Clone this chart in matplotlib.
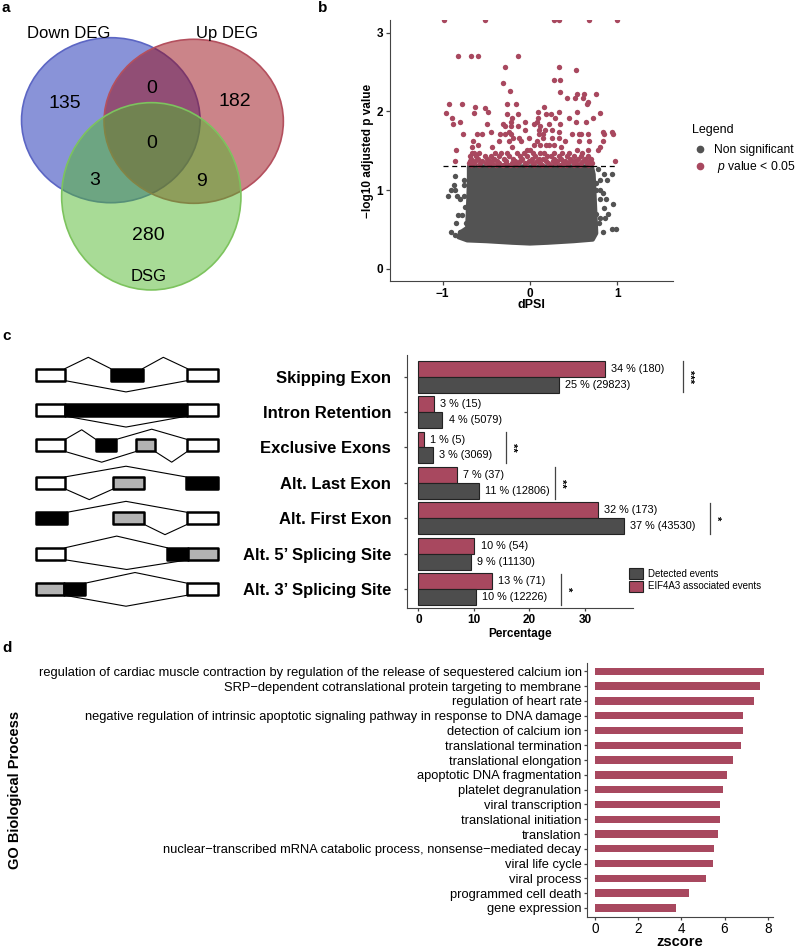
import numpy as np
import matplotlib
matplotlib.use('Agg')
import matplotlib.pyplot as plt
from matplotlib.patches import Ellipse, Rectangle, Patch
from matplotlib.lines import Line2D

plt.rcParams['font.family'] = ['Liberation Sans', 'DejaVu Sans']
plt.rcParams['mathtext.fontset'] = 'custom'
plt.rcParams['mathtext.rm'] = 'Liberation Sans'
plt.rcParams['mathtext.it'] = 'Liberation Sans:italic'

# ---------------- data ----------------
# panel a: Venn
venn_sets = ['Down DEG', 'Up DEG', 'DSG']
venn_regions = ['Down only', 'Down&Up', 'Up only', 'All', 'Down&DSG', 'Up&DSG', 'DSG only']
venn_counts = [135, 0, 182, 0, 3, 9, 280]

# panel b: volcano
sig_logp = [3.16, 2.70, 2.56, 2.52, 2.40, 2.36, 2.26, 2.24, 2.22, 2.17, 2.12,
            2.09, 2.06, 2.04, 1.99, 1.98, 1.96, 1.92, 1.87, 1.84, 1.81, 1.76,
            1.74, 1.71, 1.66, 1.62, 1.57, 1.55, 1.51, 1.47, 1.43, 1.40, 1.37,
            1.34, 1.32]
sig_dpsi = [
    [-0.99, -0.51, 0.275, 0.336, 0.673, 1.0],
    [-0.83, -0.68, -0.60, -0.14],
    [-0.287, 0.336],
    [0.524],
    [0.275, 0.348],
    [-0.306],
    [-0.226],
    [0.348],
    [0.535, 0.623, 0.753],
    [0.424, 0.52, 0.608],
    [0.669],
    [-0.93, -0.776, -0.267, -0.157, 0.65],
    [-0.634, 0.161],
    [-0.516],
    [-0.485, 0.088, 0.33, 0.54],
    [-0.967, -0.646, 0.803],
    [-0.264, -0.134, 0.183, 0.237],
    [-0.891, -0.21, 0.092, 0.283, 0.451, 0.726],
    [-0.803, -0.221, -0.057, 0.077, 0.528, 0.642],
    [-0.88, -0.49, -0.313, 0.05, 0.218, 0.344],
    [-0.283, -0.221, -0.134, 0.115],
    [-0.054, 0.107, 0.172, 0.256],
    [-0.444, -0.241, 0.336, 0.84, 0.944],
    [-0.768, -0.608, -0.554, -0.344, -0.283, -0.221, 0.107, 0.146, 0.478,
     0.565, 0.588, 0.669, 0.845, 0.955],
    [-0.191, -0.123, -0.011, 0.153, 0.252, 0.329],
    [-0.657, -0.352, -0.241, -0.107, 0.084, 0.401, 0.562, 0.68, 0.833],
    [-0.593, 0.046, 0.115, 0.183, 0.222, 0.272],
    [-0.661, -0.432, -0.203, 0.356, 0.803],
    [-0.849, -0.038, 0.0, 0.535, 0.669, 0.783],
    [-0.67, -0.64, -0.58, -0.40, -0.33, -0.26, -0.15, -0.07, 0.03, 0.12, 0.16,
     0.28, 0.37, 0.45, 0.60],
    [-0.69, -0.62, -0.52, -0.45, -0.36, -0.24, -0.12, -0.03, 0.06, 0.20, 0.24,
     0.33, 0.42, 0.50, 0.58, 0.66],
    [-0.68, -0.60, -0.49, -0.41, -0.30, -0.19, -0.09, 0.02, 0.10, 0.15, 0.27,
     0.36, 0.46, 0.55, 0.63, 0.70],
    [-0.86, -0.69, -0.63, -0.55, -0.46, -0.38, -0.28, -0.17, -0.11, -0.01, 0.08,
     0.18, 0.26, 0.31, 0.40, 0.48, 0.52, 0.61, 0.68, 0.97],
    [-0.70, -0.64, -0.57, -0.50, -0.43, -0.35, -0.27, -0.21, -0.14, -0.06, 0.04,
     0.12, 0.21, 0.29, 0.38, 0.44, 0.53, 0.59, 0.65, 0.71],
    [-0.68, -0.59, -0.47, -0.39, -0.31, -0.23, -0.16, -0.04, 0.05, 0.14, 0.23,
     0.34, 0.41, 0.50, 0.57, 0.67],
]
ns_dpsi = [-0.86, -0.76, -0.87, -0.76, -0.90, -0.86, -0.94, -0.84, -0.76, -0.80,
           -0.74, -0.82, -0.785, -0.85, -0.73, -0.90, -0.80, -0.86, -0.76,
           0.78, 0.85, 0.94, 0.80, 0.88, 0.76, 0.76, 0.80, 0.84, 0.80, 0.87,
           0.955, 0.845, 0.76, 0.89, 0.80, 0.86, 0.74, 0.79, 0.94, 0.99, 0.84]
ns_logp = [1.18, 1.13, 1.06, 1.06, 1.00, 1.00, 0.92, 0.92, 0.92, 0.89,
           0.79, 0.68, 0.68, 0.58, 0.58, 0.47, 0.47, 0.43, 0.43,
           1.27, 1.20, 1.20, 1.13, 1.13, 1.09, 1.00, 1.00, 0.96, 0.89, 0.89,
           0.82, 0.77, 0.70, 0.70, 0.64, 0.64, 0.58, 0.58, 0.50, 0.50, 0.47]
# outline of the dense cloud of non-significant events
core_dpsi = [-0.70, 0.71, 0.73, 0.74, 0.75, 0.76, 0.72, 0.50, 0.20, 0.00,
             -0.20, -0.50, -0.72, -0.82, -0.80, -0.72, -0.71, -0.70]
core_logp = [1.30, 1.30, 1.20, 0.95, 0.70, 0.45, 0.37, 0.35, 0.33, 0.32,
             0.33, 0.35, 0.36, 0.40, 0.46, 0.52, 0.80, 1.10]
p_threshold = -np.log10(0.05)

# panel c: splicing event types
event_types = ['Skipping Exon', 'Intron Retention', 'Exclusive Exons',
               'Alt. Last Exon', 'Alt. First Exon', "Alt. 5\u2019 Splicing Site",
               "Alt. 3\u2019 Splicing Site"]
eif4a3_counts = [180, 15, 5, 37, 173, 54, 71]
detected_counts = [29823, 5079, 3069, 12806, 43530, 11130, 12226]
sig_events = [0, 2, 3, 4, 6]
sig_stars = ['***', '**', '**', '*', '*']
sig_bracket_x = [47.6, 15.7, 24.6, 52.6, 25.7]

# panel d: GO terms
go_terms = [
    'regulation of cardiac muscle contraction by regulation of the release of sequestered calcium ion',
    'SRP\u2212dependent cotranslational protein targeting to membrane',
    'regulation of heart rate',
    'negative regulation of intrinsic apoptotic signaling pathway in response to DNA damage',
    'detection of calcium ion',
    'translational termination',
    'translational elongation',
    'apoptotic DNA fragmentation',
    'platelet degranulation',
    'viral transcription',
    'translational initiation',
    'translation',
    'nuclear\u2212transcribed mRNA catabolic process, nonsense\u2212mediated decay',
    'viral life cycle',
    'viral process',
    'programmed cell death',
    'gene expression',
]
go_zscore = [7.85, 7.63, 7.38, 6.85, 6.85, 6.74, 6.37, 6.12, 5.95, 5.80, 5.78,
             5.68, 5.51, 5.48, 5.15, 4.37, 3.74]

# ---------------- style ----------------
RED = '#A8485F'
DGRAY = '#4D4D4D'
PGRAY = '#535353'
AXC = '#444444'

W, H = 800, 948
fig = plt.figure(figsize=(8, 9.48), dpi=100)


def px_axes(l, t, r, b):
    return fig.add_axes([l / W, 1 - b / H, (r - l) / W, (b - t) / H])


ov = fig.add_axes([0, 0, 1, 1])
ov.set_xlim(0, W)
ov.set_ylim(H, 0)
ov.axis('off')

# panel letters
for lab, (x, y) in zip('abcd', [(6, 8), (323, 8), (7, 336), (7, 648)]):
    ov.text(x, y, lab, fontsize=11, fontweight='bold', ha='center', va='center')

# ---------------- panel a: Venn ----------------
venn_geom = [((110.8, 120.2), 178.5, 165.0, (0.08, 0.16, 0.70), '#5C66C4'),
             ((193.7, 121.3), 179.3, 164.0, (0.60, 0.04, 0.08), '#B4505E'),
             ((151.3, 196.3), 179.3, 187.3, (0.32, 0.72, 0.18), '#7DC35E')]
for (c, w, h, fc, ec) in venn_geom:
    ov.add_patch(Ellipse(c, w, h, facecolor=fc + (0.5,), edgecolor=ec, lw=1.2))
set_pos = [(68.3, 33.3), (226.7, 33.3), (148.3, 276.7)]
for name, (x, y) in zip(venn_sets, set_pos):
    ov.text(x, y, name, fontsize=12, ha='center', va='center')
region_pos = [(65, 103.3), (151.7, 88.3), (235, 101.7), (151.7, 143.3),
              (94.3, 180), (201.7, 181.7), (148.3, 235)]
for n, (x, y) in zip(venn_counts, region_pos):
    ov.text(x, y, str(n), fontsize=14, ha='center', va='center')

# ---------------- panel b: volcano ----------------
axb = px_axes(390, 20, 673, 281)
axb.fill(core_dpsi, core_logp, facecolor=PGRAY, edgecolor=PGRAY, lw=3,
         joinstyle='round')
axb.scatter(ns_dpsi, ns_logp, s=15, c=PGRAY, lw=0)
for yv, xs in zip(sig_logp, sig_dpsi):
    axb.scatter(xs, [yv] * len(xs), s=15, c=RED, lw=0, zorder=3)
axb.plot([-1, 1], [p_threshold] * 2, color='black', lw=0.9, ls=(0, (4, 3)), zorder=4)
axb.plot([core_dpsi[0], core_dpsi[1]], [p_threshold] * 2, color='black', lw=0.9, zorder=4)
axb.set_xlim(-1.605, 1.64)
axb.set_ylim(-0.156, 3.16)
axb.set_xticks([-1, 0, 1])
axb.set_xticklabels(['\u22121', '0', '1'])
axb.set_yticks([0, 1, 2, 3])
for s in ['top', 'right']:
    axb.spines[s].set_visible(False)
for s in ['left', 'bottom']:
    axb.spines[s].set_color(AXC)
axb.tick_params(colors=AXC, labelcolor='black', length=3, width=0.9, labelsize=8.5, pad=2)
for t in axb.get_xticklabels() + axb.get_yticklabels():
    t.set_fontweight('bold')
ov.text(368, 151, '\u2212log10 adjusted p value', rotation=90, fontsize=8.5,
        fontweight='bold', ha='center', va='center')
ov.text(531, 305, 'dPSI', fontsize=9, fontweight='bold', ha='center', va='center')
ov.text(692, 130, 'Legend', fontsize=9, ha='left', va='center')
axb.legend(handles=[Line2D([], [], marker='o', ls='', color=PGRAY, ms=4.5),
                    Line2D([], [], marker='o', ls='', color=RED, ms=4.5)],
           labels=['Non significant', ' $p$ value < 0.05'],
           loc='upper left',
           bbox_to_anchor=(692 / W, 1 - 144.5 / H), bbox_transform=fig.transFigure,
           frameon=False, fontsize=8.7,
           handletextpad=0.45, labelspacing=0.2, handlelength=1.4,
           borderpad=0, borderaxespad=0)

# ---------------- panel c: splicing events ----------------
eif_pct = [100 * v / sum(eif4a3_counts) for v in eif4a3_counts]
det_pct = [100 * v / sum(detected_counts) for v in detected_counts]
axc = px_axes(407.3, 355, 633.3, 608)
pos = np.arange(len(event_types))
axc.barh(pos - 0.225, eif_pct, height=0.45, color=RED, edgecolor='#222222', lw=0.8)
axc.barh(pos + 0.225, det_pct, height=0.45, color=DGRAY, edgecolor='#222222', lw=0.8)
for i in range(len(event_types)):
    axc.annotate(f'{round(eif_pct[i])} % ({eif4a3_counts[i]})', (eif_pct[i], i - 0.225),
                 xytext=(4.5, 0), textcoords='offset points', va='center', fontsize=7.8)
    axc.annotate(f'{round(det_pct[i])} % ({detected_counts[i]})', (det_pct[i], i + 0.225),
                 xytext=(4.5, 0), textcoords='offset points', va='center', fontsize=7.8)
for i, st, bx in zip(sig_events, sig_stars, sig_bracket_x):
    axc.plot([bx, bx], [i - 0.44, i + 0.44], color=AXC, lw=0.9, clip_on=False)
    axc.text(bx + 1.1, i, st, rotation=-90, ha='center', va='center', fontsize=8,
             fontweight='bold', clip_on=False)
axc.set_xlim(-2.0, 38.7)
axc.set_ylim(6.53, -0.61)
axc.set_yticks(pos)
axc.set_yticklabels(event_types, fontsize=12, fontweight='bold')
axc.set_xticks([0, 10, 20, 30])
for s in ['top', 'right']:
    axc.spines[s].set_visible(False)
for s in ['left', 'bottom']:
    axc.spines[s].set_color(AXC)
axc.tick_params(axis='y', colors=AXC, labelcolor='black', length=2.2, width=0.9, pad=9.4)
axc.tick_params(axis='x', colors=AXC, labelcolor='black', length=2.2, width=0.9,
                labelsize=8.5, pad=2)
for t in axc.get_xticklabels():
    t.set_fontweight('bold')
ov.text(520.3, 634, 'Percentage', fontsize=8.5, fontweight='bold', ha='center', va='center')
axc.legend(handles=[Patch(facecolor=DGRAY, edgecolor='#222222', lw=0.8),
                    Patch(facecolor=RED, edgecolor='#222222', lw=0.8)],
           labels=['Detected events', 'EIF4A3 associated events'],
           loc='upper left', bbox_to_anchor=(629.3 / W, 1 - 568.3 / H),
           bbox_transform=fig.transFigure, frameon=False, fontsize=7,
           handlelength=1.38, handleheight=1.38, handletextpad=0.5,
           labelspacing=0.12, borderpad=0, borderaxespad=0)

# splicing diagrams (decorative schematics)
diag_boxes = [
    [(35.7, 65, 'white'), (110.7, 142.7, 'black'), (187.3, 218.3, 'white')],
    [(35.7, 65, 'white'), (65, 187.3, 'black'), (187.3, 218.3, 'white')],
    [(35.7, 65, 'white'), (96, 116, 'black'), (136, 155, '#B3B3B3'), (187.3, 218.3, 'white')],
    [(35.7, 65, 'white'), (113.3, 144, '#B3B3B3'), (186, 218.3, 'black')],
    [(35.7, 66.7, 'black'), (113.3, 144, '#B3B3B3'), (187.3, 218.3, 'white')],
    [(35.7, 65, 'white'), (167.3, 188.3, 'black'), (188.3, 218.3, '#B3B3B3')],
    [(35.7, 64.3, '#B3B3B3'), (64.3, 85, 'black'), (187.3, 218.3, 'white')],
]
diag_lines = [
    [[(65, -6), (88.3, -17.3), (110.7, -6)], [(142.7, -6), (163.3, -17.3), (187.3, -6)],
     [(65, 6), (126, 17.3), (187.3, 6)]],
    [[(65, 6), (126, 17), (187.3, 6)]],
    [[(65, -6), (81.7, -15.7), (96, -6)], [(116, -6), (151.7, -16.3), (187.3, -6)],
     [(65, 6), (101.7, 16.7), (136, 6)], [(155, 6), (171.7, 16.7), (187.3, 6)]],
    [[(65, -6), (126, -16.7), (186, -6)], [(65, 6), (89.3, 16.7), (113.3, 6)]],
    [[(66.7, -6), (126, -17), (187.3, -6)], [(144, 6), (165, 16.3), (187.3, 6)]],
    [[(65, -6), (116.7, -17.7), (167.3, -6)], [(65, 6), (126.7, 15.7), (188.3, 6)]],
    [[(85, -6), (135, -16.7), (187.3, -6)], [(64.3, 6), (126, 17), (187.3, 6)]],
]
for i in range(len(event_types)):
    yc = 355 + (i + 0.61) * (608 - 355) / (6.53 + 0.61) - 2 * (i < 3)
    for segs in diag_lines[i]:
        ov.plot([p[0] for p in segs], [yc + p[1] for p in segs], color='black', lw=0.8)
    for (x0, x1, col) in diag_boxes[i]:
        ov.add_patch(Rectangle((x0, yc - 6), x1 - x0, 12, facecolor=col,
                               edgecolor='black', lw=1.8, joinstyle='round', zorder=3))

# ---------------- panel d: GO ----------------
axd = px_axes(586.7, 663.3, 772.7, 916.7)
yd = np.arange(len(go_terms))
axd.barh(yd, go_zscore, height=0.5, color=RED)
axd.set_xlim(-0.385, 8.23)
axd.set_ylim(16.59, -0.54)
axd.set_yticks(yd)
axd.set_yticklabels(go_terms, fontsize=9.3)
axd.set_xticks([0, 2, 4, 6, 8])
for s in ['top', 'right']:
    axd.spines[s].set_visible(False)
for s in ['left', 'bottom']:
    axd.spines[s].set_color(AXC)
axd.tick_params(axis='y', colors=AXC, labelcolor='black', length=2.5, width=0.9, pad=1.2)
axd.tick_params(axis='x', colors=AXC, labelcolor='black', length=2.5, width=0.9,
                labelsize=9.8, pad=1.2)
ov.text(679.7, 942, 'zscore', fontsize=10.5, fontweight='bold', ha='center', va='center')
ov.text(15, 790, 'GO Biological Process', rotation=90, fontsize=10.5,
        fontweight='bold', ha='center', va='center')

fig.savefig('out.png', dpi=100)
